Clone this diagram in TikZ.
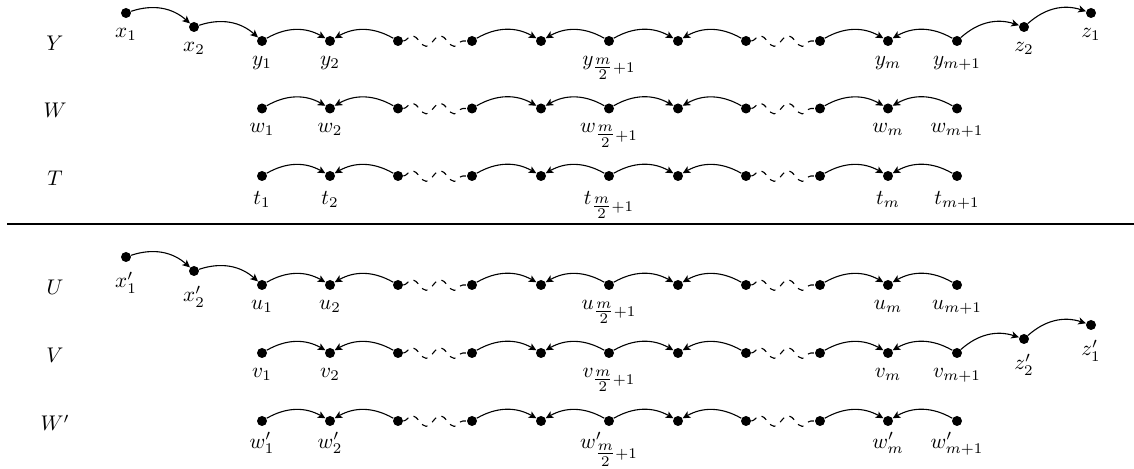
\documentclass[tikz,border=0pt]{standalone}
\usepackage{amsmath}
\usetikzlibrary{arrows.meta,decorations.pathmorphing}
\begin{document}
\begin{tikzpicture}[x=0.5pt,y=0.5pt,
  dot/.style={circle,fill,inner sep=0pt,minimum size=5pt},
  arc/.style={-{Stealth[length=3.8pt,width=3.6pt,inset=1pt]},line width=0.55pt},
  snk/.style={line width=0.55pt,dashed,decorate,
    decoration={snake,amplitude=2.7pt,segment length=14pt}},
  lab/.style={label distance=1pt,scale=1.06},
  rowname/.style={inner sep=0pt,scale=1.06}
]
\useasboundingbox (0,0) rectangle (1134,469);

% the six chains: name / height / vertex letter / row label / label gap
\foreach \r/\ry/\s/\t/\ld in {Y/428/y/Y/1pt, W/360.5/w/W/1pt, T/293/t/T/1pt,
                              U/184/u/U/1pt, V/116/v/V/1pt, Q/48/w'/W'/-0.6pt}{
  \node[rowname] (n\r) at (55,\ry-2) {$\t$};
  \node[dot,label={[lab,label distance=\ld]below:$\s_{1}$}] (\r1) at (262,\ry) {};
  \node[dot,label={[lab,label distance=\ld]below:$\s_{2}$}] (\r2) at (330,\ry) {};
  \node[dot] (\r3) at (398,\ry) {};
  \node[dot] (\r4) at (472,\ry) {};
  \node[dot] (\r5) at (541,\ry) {};
  \node[dot,label={[lab,label distance=\ld]below:$\s_{\tfrac{m}{2}+1}$}] (\r6) at (609,\ry) {};
  \node[dot] (\r7) at (678,\ry) {};
  \node[dot] (\r8) at (746,\ry) {};
  \node[dot] (\r9) at (820,\ry) {};
  \node[dot,label={[lab,label distance=\ld]below:$\s_{m}$}] (\r10) at (888,\ry) {};
  \node[dot,label={[lab,label distance=\ld]below:$\s_{m+1}$}] (\r11) at (957,\ry) {};
  \draw[arc] (\r1) to[bend left=30] (\r2);
  \draw[arc] (\r3) to[bend right=30] (\r2);
  \draw[snk] (\r3) -- (\r4);
  \draw[arc] (\r4) to[bend left=30] (\r5);
  \draw[arc] (\r6) to[bend right=30] (\r5);
  \draw[arc] (\r6) to[bend left=30] (\r7);
  \draw[arc] (\r8) to[bend right=30] (\r7);
  \draw[snk] (\r8) -- (\r9);
  \draw[arc] (\r9) to[bend left=30] (\r10);
  \draw[arc] (\r11) to[bend right=30] (\r10);
}

% tails in front of Y and U
\node[dot,label={[lab]below:$x_{1}$}] (x1) at (126,456) {};
\node[dot,label={[lab]below:$x_{2}$}] (x2) at (194,442) {};
\draw[arc] (x1) to[bend left=30] (x2);
\draw[arc] (x2) to[bend left=30] (Y1);
\node[dot,label={[lab]below:$x'_{1}$}] (xp1) at (126,212) {};
\node[dot,label={[lab]below:$x'_{2}$}] (xp2) at (194,198) {};
\draw[arc] (xp1) to[bend left=30] (xp2);
\draw[arc] (xp2) to[bend left=30] (U1);

% tails behind Y and V
\node[dot,label={[lab]below:$z_{2}$}] (z2) at (1024,442) {};
\node[dot,label={[lab]below:$z_{1}$}] (z1) at (1091,456) {};
\draw[arc] (Y11) to[bend left=30] (z2);
\draw[arc] (z2) to[bend left=30] (z1);
\node[dot,label={[lab]below:$z'_{2}$}] (zp2) at (1024,130) {};
\node[dot,label={[lab]below:$z'_{1}$}] (zp1) at (1091,144) {};
\draw[arc] (V11) to[bend left=30] (zp2);
\draw[arc] (zp2) to[bend left=30] (zp1);

% separator between the two groups
\draw[line width=0.6pt] (7,245) -- (1134,245);
\end{tikzpicture}
\end{document}
